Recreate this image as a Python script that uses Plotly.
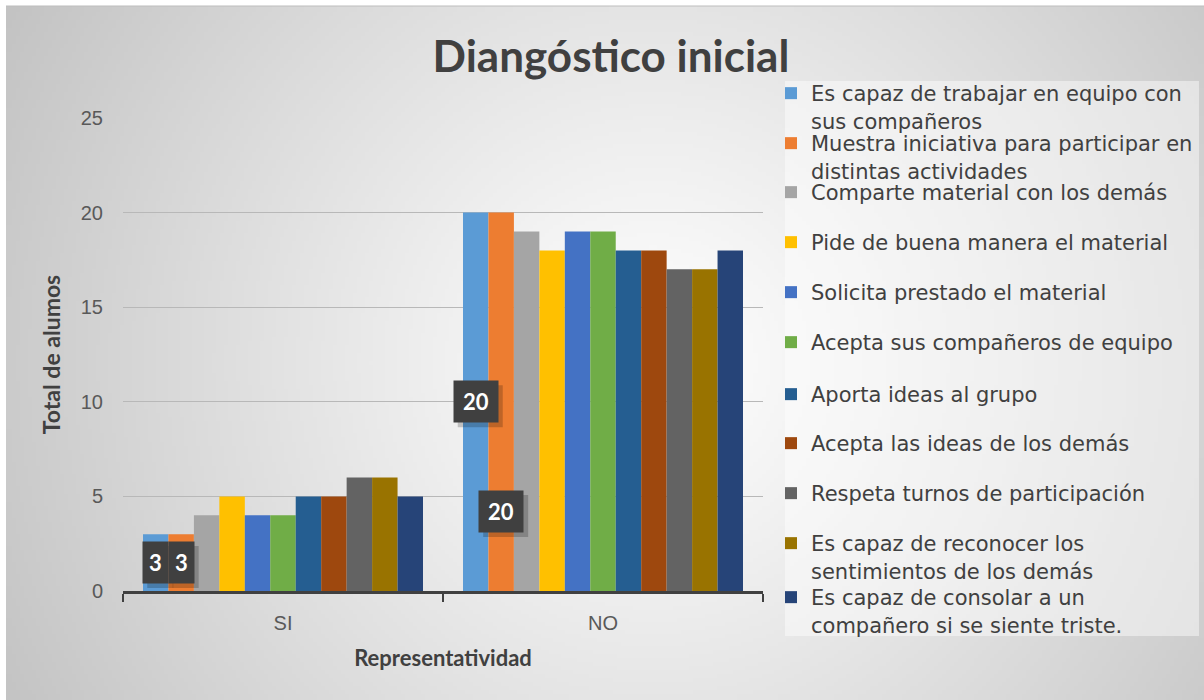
import base64, struct, zlib
import numpy as np
import plotly.graph_objects as go

categories = ["SI", "NO"]
series_names = [
    "Es capaz de trabajar en equipo con<br>sus compañeros",
    "Muestra iniciativa para participar en<br>distintas actividades",
    "Comparte material con los demás",
    "Pide de buena manera el material",
    "Solicita prestado el material",
    "Acepta sus compañeros de equipo",
    "Aporta ideas al grupo",
    "Acepta las ideas de los demás",
    "Respeta turnos de participación",
    "Es capaz de reconocer los<br>sentimientos de los demás",
    "Es capaz de consolar a un<br>compañero si se siente triste.",
]
si_values = [3, 3, 4, 5, 4, 4, 5, 5, 6, 6, 5]
no_values = [20, 20, 19, 18, 19, 19, 18, 18, 17, 17, 18]
colors = ["#5B9BD5", "#ED7D31", "#A5A5A5", "#FFC000", "#4472C4", "#70AD47",
          "#255E91", "#9E480E", "#636363", "#997300", "#264478"]
y_ticks = [0, 5, 10, 15, 20, 25]

W, H = 1204, 700
L, R, T, B = 123, 441, 118, 109
PW, PH = W - L - R, H - T - B

def px_x(px):
    return (px - L) / PW

def px_y(py):
    return (H - B - py) / PH

# radial gradient background image
def png_gray(arr):
    h, w = arr.shape
    raw = b"".join(b"\x00" + arr[i].tobytes() for i in range(h))
    def chunk(t, d):
        c = struct.pack(">I", len(d)) + t + d
        return c + struct.pack(">I", zlib.crc32(t + d) & 0xffffffff)
    return (b"\x89PNG\r\n\x1a\n"
            + chunk(b"IHDR", struct.pack(">IIBBBBB", w, h, 8, 0, 0, 0, 0))
            + chunk(b"IDAT", zlib.compress(raw, 9))
            + chunk(b"IEND", b""))

fx0, fy0, fx1, fy1 = 6, 6, 1204, 700
sc = 4
gw, gh = (fx1 - fx0) // sc, (fy1 - fy0) // sc
yy, xx = np.mgrid[0:gh, 0:gw]
xx = xx * sc + fx0
yy = yy * sc + fy0
d = np.sqrt((xx - 650) ** 2 + (yy - 360) ** 2) / 760
t = np.clip(d, 0, 1)
g = (255 - 62 * t ** 1.1).astype(np.uint8)
img_src = "data:image/png;base64," + base64.b64encode(png_gray(g)).decode()

fig = go.Figure()
legend_rows_px = [94, 144, 193, 243, 293, 343, 395, 444, 494, 544, 598]
for i, name in enumerate(series_names):
    lg = "legend" if i == 0 else f"legend{i+1}"
    fig.add_trace(go.Bar(
        x=categories, y=[si_values[i], no_values[i]], name=name,
        marker=dict(color=colors[i], line=dict(width=0)),
        legend=lg, hoverinfo="y+name",
    ))

legend_font = dict(family="DejaVu Sans, Liberation Sans, sans-serif", size=21, color="#404040")
legends = {}
for i, yc in enumerate(legend_rows_px):
    lg = "legend" if i == 0 else f"legend{i+1}"
    legends[lg] = dict(
        x=px_x(771), xanchor="left", y=px_y(yc - 21), yanchor="top",
        bgcolor="rgba(0,0,0,0)", borderwidth=0, font=legend_font, valign="top",
    )

# data labels
bargap = 0.125
nser = len(series_names)
bw = (1 - bargap) / nser

def bar_center(cat, ser):
    return cat - (1 - bargap) / 2 + (ser + 0.5) * bw

label_specs = [
    (0, 0, si_values[0] / 2, si_values[0]),
    (0, 1, si_values[1] / 2, si_values[1]),
    (1, 0, no_values[0] / 2, no_values[0]),
    (1, 1, 4.2, no_values[1]),
]
annotations = []
shadow_shapes = []
for cat, ser, yv, val in label_specs:
    wbox = 25 if val < 10 else 44
    hbox = 41
    xc = bar_center(cat, ser)
    shadow_shapes.append(dict(
        type="rect", xref="x", yref="y", xsizemode="pixel", ysizemode="pixel",
        xanchor=xc, yanchor=yv, x0=-wbox / 2 + 4, x1=wbox / 2 + 5,
        y0=-hbox / 2 - 5, y1=hbox / 2 - 4,
        fillcolor="rgba(0,0,0,0.2)", line=dict(width=0), layer="above",
    ))
    annotations.append(dict(
        x=xc, y=yv, xref="x", yref="y", text=f"<b>{val}</b>",
        showarrow=False, width=wbox, height=hbox,
        bgcolor="#404040", font=dict(family="Lato", size=22, color="white"),
        borderpad=0,
    ))

fig.update_layout(
    width=W, height=H, autosize=False,
    margin=dict(l=L, r=R, t=T, b=B, autoexpand=False),
    paper_bgcolor="white", plot_bgcolor="rgba(0,0,0,0)",
    barmode="group", bargap=bargap, bargroupgap=0,
    title=dict(text="<b>Diangóstico inicial</b>", x=611 / W, xanchor="center",
               y=1 - 57 / H, yanchor="middle", yref="container",
               font=dict(family="Lato", size=44, color="#404040")),
    xaxis=dict(
        showline=True, linecolor="#404040", linewidth=3,
        ticks="outside", tickson="boundaries", ticklen=8, tickwidth=2, tickcolor="#404040",
        ticklabelstandoff=12,
        tickfont=dict(family="Liberation Sans, Arial", size=20, color="#595959"),
        title=dict(text="<b>Representatividad</b>", standoff=18,
                   font=dict(family="Lato", size=22, color="#404040")),
        automargin=False,
    ),
    yaxis=dict(
        range=[0, 25], tickvals=y_ticks, showgrid=True, gridcolor="#b8b8b8", gridwidth=1,
        zeroline=False, showline=False, ticks="", ticklabelstandoff=19,
        tickfont=dict(family="Liberation Sans, Arial", size=20, color="#595959"),
        title=dict(text="<b>Total de alumos</b>", standoff=13,
                   font=dict(family="Lato", size=23, color="#404040")),
        automargin=False,
    ),
    images=[dict(source=img_src, xref="paper", yref="paper",
                 x=px_x(fx0), y=px_y(fy0), sizex=(fx1 - fx0) / PW, sizey=(fy1 - fy0) / PH,
                 xanchor="left", yanchor="top", sizing="stretch", layer="below")],
    shapes=[
        dict(type="rect", xref="paper", yref="paper", x0=px_x(785), x1=px_x(1199),
             y0=px_y(636), y1=px_y(81), fillcolor="rgba(255,255,255,0.45)",
             line=dict(width=0), layer="below"),
        dict(type="line", xref="paper", yref="paper", x0=px_x(fx0), x1=px_x(1204),
             y0=px_y(fy0), y1=px_y(fy0), line=dict(color="#bdbdbd", width=1), layer="below"),
    ] + shadow_shapes,
    annotations=annotations,
    showlegend=True,
    **legends,
)

fig.write_html("out.html", config={"displayModeBar": False},
               post_script="document.body.style.margin='0';")
